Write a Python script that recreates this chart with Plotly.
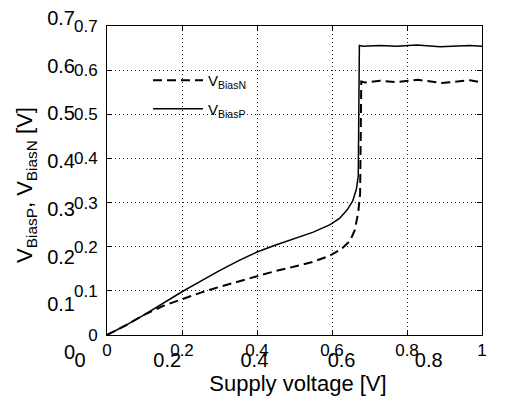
import plotly.graph_objects as go

# BiasP (solid)
xp = [0, 0.05, 0.1, 0.15, 0.2, 0.25, 0.3, 0.35, 0.4, 0.45, 0.5, 0.55, 0.595, 0.62, 0.64, 0.655, 0.665, 0.670, 0.673,
      0.683, 0.728, 0.772, 0.826, 0.888, 0.968, 1.0]
yp = [0, 0.022, 0.046, 0.072, 0.098, 0.122, 0.146, 0.168, 0.188, 0.204, 0.219, 0.233, 0.250, 0.264, 0.283, 0.303, 0.330, 0.360, 0.656,
      0.654, 0.656, 0.654, 0.657, 0.653, 0.656, 0.654]
# BiasN (dashed)
xn = [0, 0.05, 0.1, 0.15, 0.2, 0.25, 0.3, 0.35, 0.4, 0.45, 0.5, 0.55, 0.595, 0.625, 0.648, 0.661, 0.670, 0.675, 0.678,
      0.688, 0.728, 0.772, 0.83, 0.893, 0.968, 1.0]
yn = [0, 0.022, 0.046, 0.066, 0.081, 0.096, 0.109, 0.121, 0.134, 0.145, 0.155, 0.166, 0.180, 0.195, 0.213, 0.238, 0.278, 0.32, 0.574,
      0.572, 0.576, 0.573, 0.578, 0.571, 0.577, 0.572]

inner_xticks = [0, 0.2, 0.4, 0.6, 0.8, 1]
inner_xlabels = ["0", "0.2", "0.4", "0.6", "0.8", "1"]
inner_yticks = [0, 0.1, 0.2, 0.3, 0.4, 0.5, 0.6, 0.7]
inner_ylabels = ["0", "0.1", "0.2", "0.3", "0.4", "0.5", "0.6", "0.7"]
outer_xticks = [0, 0.2, 0.4, 0.6, 0.8, 1]
outer_xlabels = ["0", "0.2", "0.4", "0.6", "0.8", "1"]
outer_yticks = [0, 0.1, 0.2, 0.3, 0.4, 0.5, 0.6, 0.7]
outer_ylabels = ["0", "0.1", "0.2", "0.3", "0.4", "0.5", "0.6", "0.7"]

W, H = 515, 411
OX, OY = 8, 8  # page body offset
FONT = "Liberation Sans, Arial, sans-serif"


def fx(px):
    return (px - OX) / W


def fy(py):
    return 1 - (py - OY) / H


fig = go.Figure()
fig.add_trace(go.Scatter(x=xn, y=yn, mode="lines", name="V<sub>BiasN</sub>",
                         line=dict(color="black", width=2, dash="9px,5px"), legendgroup="n"))
fig.add_trace(go.Scatter(x=xp, y=yp, mode="lines", name="V<sub>BiasP</sub>",
                         line=dict(color="black", width=1.5), legendgroup="p"))
fig.add_trace(go.Scatter(x=[], y=[], xaxis="x2", yaxis="y2", showlegend=False, hoverinfo="skip"))

grid = dict(showgrid=True, gridcolor="#222", gridwidth=1, griddash="1px,3px")

fig.update_layout(
    width=W, height=H, autosize=False,
    margin=dict(l=0, r=0, t=0, b=0, pad=0, autoexpand=False),
    paper_bgcolor="white", plot_bgcolor="rgba(0,0,0,0)",
    font=dict(family=FONT, color="black"),
    showlegend=True,
    legend=dict(x=fx(148), y=fy(64), xanchor="left", yanchor="top",
                bgcolor="rgba(0,0,0,0)", font=dict(size=15, family=FONT),
                tracegroupgap=6, itemwidth=50),
    xaxis=dict(domain=[fx(107), fx(482)], range=[0, 1], anchor="y", automargin=False,
               tickvals=inner_xticks, ticktext=inner_xlabels, ticklabeloverflow="allow",
               ticks="inside", ticklen=5, tickcolor="black",
               showline=True, linecolor="black", linewidth=1, mirror="allticks",
               zeroline=False, tickfont=dict(size=17), ticklabelstandoff=0, **grid),
    yaxis=dict(domain=[fy(335), fy(26)], range=[0, 0.7], anchor="x", automargin=False,
               tickvals=inner_yticks, ticktext=inner_ylabels, ticklabeloverflow="allow",
               ticks="inside", ticklen=5, tickcolor="black",
               showline=True, linecolor="black", linewidth=1, mirror="allticks",
               zeroline=False, tickfont=dict(size=17), ticklabelstandoff=5, **grid),
    xaxis2=dict(domain=[fx(80), fx(516)], range=[0, 1.0001], anchor="free", position=fy(346), automargin=False,
                tickvals=outer_xticks, ticktext=outer_xlabels, ticklabeloverflow="allow",
                ticks="", showline=False, showgrid=False, zeroline=False,
                tickfont=dict(size=20), ticklabelstandoff=0,
                title=dict(text="Supply voltage [V]", font=dict(size=22), standoff=4)),
    yaxis2=dict(domain=[fy(352), fy(18)], range=[0, 0.70005], anchor="x2", automargin=False,
                tickvals=outer_yticks, ticktext=outer_ylabels, ticklabeloverflow="allow",
                ticks="", showline=False, showgrid=False, zeroline=False,
                tickfont=dict(size=20), ticklabelstandoff=4,
                title=dict(text="V<sub>BiasP</sub>, V<sub>BiasN</sub> [V]", font=dict(size=22), standoff=8)),
)

fig.write_html("out.html")
